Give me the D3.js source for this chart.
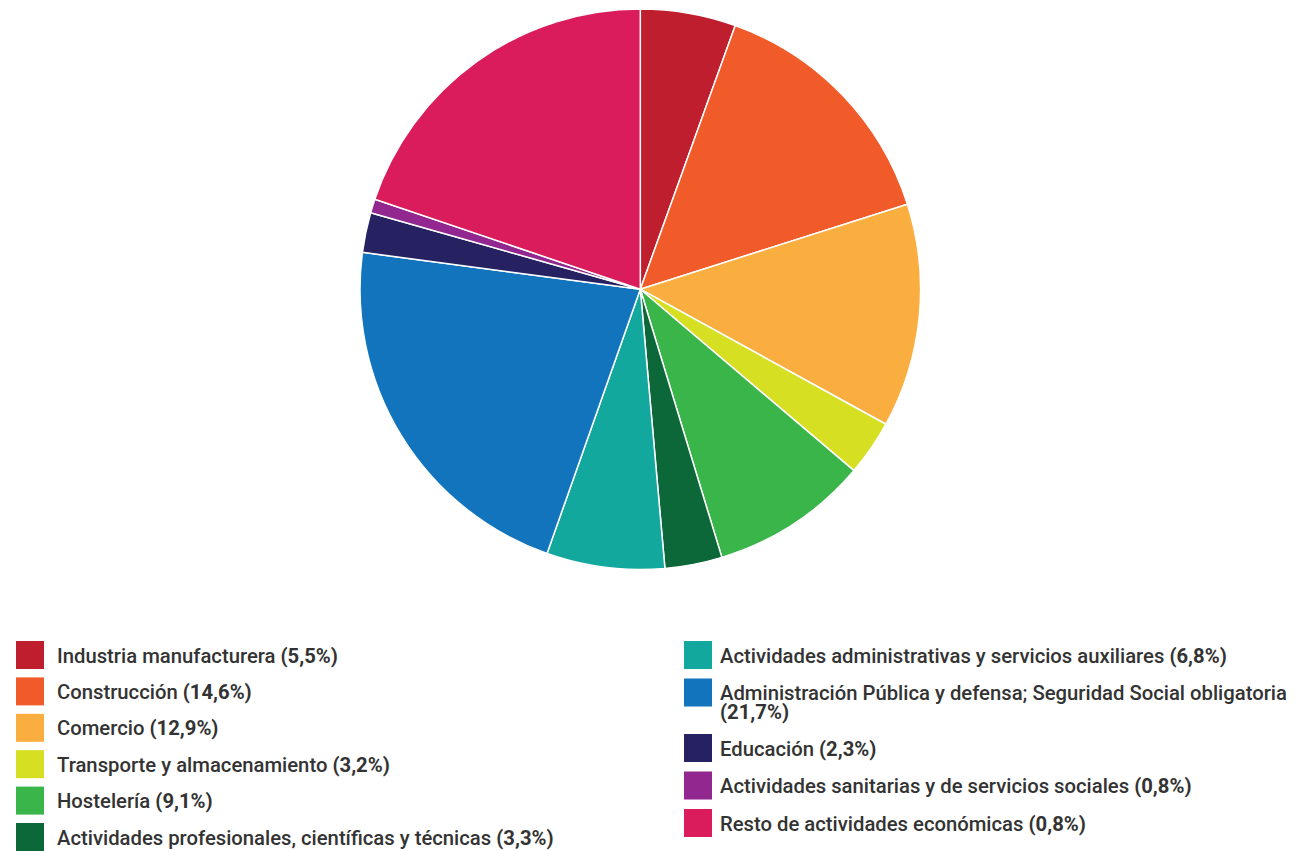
<!DOCTYPE html>
<html>
<head>
<meta charset="utf-8">
<script src="https://cdn.jsdelivr.net/npm/d3@7"></script>
<style>
  html, body { margin: 0; padding: 0; background: #fff; }
  svg { display: block; }
  text { font-family: Roboto, "Noto Sans", sans-serif; fill: #333; }
</style>
</head>
<body>
<svg id="chart" width="1305" height="851"></svg>
<script>
// ---- data ----
const categories = [
  "Industria manufacturera",
  "Construcción",
  "Comercio",
  "Transporte y almacenamiento",
  "Hostelería",
  "Actividades profesionales, científicas y técnicas",
  "Actividades administrativas y servicios auxiliares",
  "Administración Pública y defensa; Seguridad Social obligatoria",
  "Educación",
  "Actividades sanitarias y de servicios sociales",
  "Resto de actividades económicas"
];
const values = [5.5, 14.6, 12.9, 3.2, 9.1, 3.3, 6.8, 21.7, 2.3, 0.8, 19.8];
const percentLabels = ["(5,5%)", "(14,6%)", "(12,9%)", "(3,2%)", "(9,1%)", "(3,3%)",
                       "(6,8%)", "(21,7%)", "(2,3%)", "(0,8%)", "(0,8%)"];
const colors = ["#BE1E2D", "#F15A29", "#FBAE40", "#D7DF23", "#39B54A", "#0C6739",
                "#13A89E", "#1174BC", "#262262", "#92278F", "#DA1C5C"];

const svg = d3.select("#chart");

// ---- pie ----
const cx = 640.3, cy = 289.2, radius = 280.3;
const data = categories.map((c, i) => ({ name: c, value: values[i], pct: percentLabels[i], color: colors[i] }));
const pie = d3.pie().value(d => d.value).sort(null).startAngle(0).endAngle(2 * Math.PI);
const arc = d3.arc().innerRadius(0).outerRadius(radius);

svg.append("g")
  .attr("transform", `translate(${cx},${cy})`)
  .selectAll("path")
  .data(pie(data))
  .join("path")
  .attr("d", arc)
  .attr("fill", d => d.data.color)
  .attr("stroke", "#fff")
  .attr("stroke-width", 1.5)
  .attr("stroke-linejoin", "round");

// ---- legend ----
const fontSize = 20;
const leftItems = data.slice(0, 6);
const rightItems = data.slice(6);
const swatch = 28;
const legend = svg.append("g");

// measure horizontal compression so the label widths match the narrow reference font
const probe = legend.append("text").attr("font-size", fontSize);
probe.append("tspan").attr("font-weight", 500).text(data[0].name + " ");
probe.append("tspan").attr("font-weight", 700).text(data[0].pct);
const probeW = probe.node().getComputedTextLength();
probe.remove();
const sx = 281 / probeW;

function measure(str, weight) {
  const t = legend.append("text").attr("font-size", fontSize).attr("font-weight", weight).text(str);
  const w = t.node().getComputedTextLength();
  t.remove();
  return w * sx;
}

function drawColumn(items, swX, textX, maxW, rowH, startY) {
  let y = startY;
  items.forEach(d => {
    legend.append("rect")
      .attr("x", swX).attr("y", y)
      .attr("width", swatch).attr("height", swatch)
      .attr("fill", d.color);
    const full = measure(d.name + " ", 500) + measure(d.pct, 700);
    const wrap = full > maxW;
    const g = legend.append("g").attr("transform", `translate(${textX},${y + 21.5}) scale(${sx},1)`);
    const t = g.append("text").attr("font-size", fontSize).attr("x", 0).attr("y", 0);
    t.append("tspan").attr("font-weight", 500).text(wrap ? d.name : d.name + " ");
    const p = t.append("tspan").attr("font-weight", 700).text(d.pct);
    if (wrap) p.attr("x", 0).attr("dy", 19.5);
    y += rowH + (wrap ? 18 : 0);
  });
}

drawColumn(leftItems, 16, 57, 600, 36.4, 641);
drawColumn(rightItems, 684, 720, 575, 37.5, 641);
</script>
</body>
</html>
